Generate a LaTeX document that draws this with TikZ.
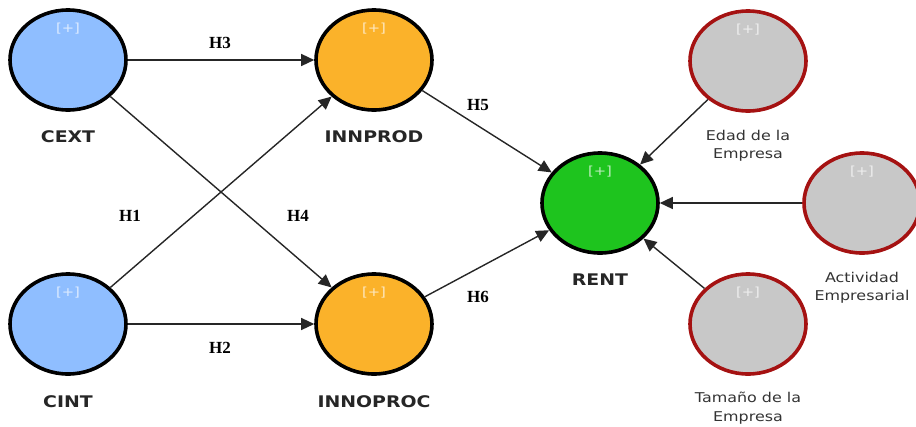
\documentclass[tikz,border=0pt]{standalone}
\usepackage{fontspec}
\setmainfont{Liberation Serif}
\newfontfamily\lblfont[FakeStretch=1.18]{DejaVu Sans}
\usetikzlibrary{shapes.geometric,arrows.meta}

\definecolor{cblue}{RGB}{143,190,255}
\definecolor{corange}{RGB}{251,178,42}
\definecolor{cgreen}{RGB}{30,196,30}
\definecolor{cgray}{RGB}{200,200,200}
\definecolor{cred}{RGB}{165,18,18}

\begin{document}
\begin{tikzpicture}[x=1pt,y=-1pt,
  lv/.style={ellipse, draw=black, line width=3.6pt, minimum width=116pt,
             minimum height=100pt, inner sep=0pt},
  ctrl/.style={lv, draw=cred, fill=cgray},
  plus/.style={text=white, opacity=0.7, font=\lblfont\fontsize{12.5}{13}\selectfont, inner sep=0pt},
  vname/.style={font=\lblfont\bfseries\fontsize{16}{18}\selectfont, text=black!85, inner sep=0pt},
  cname/.style={font=\lblfont\fontsize{13.5}{18.5}\selectfont, text=black!80, align=center, inner sep=0pt},
  hyp/.style={font=\bfseries\fontsize{17}{19}\selectfont, inner sep=0pt},
  conn/.style={draw=black!85, line width=1.4pt, -{Triangle[length=13pt,width=12pt]}}
]
\useasboundingbox (0,0) rectangle (916,426);

% latent variables
\node[lv, fill=cblue]   (cext)    at (68,60)   {};
\node[lv, fill=cblue]   (cint)    at (68,324)  {};
\node[lv, fill=corange] (innprod) at (374,60)  {};
\node[lv, fill=corange] (innproc) at (374,324) {};
\node[lv, fill=cgreen]  (rent)    at (600,203) {};
\node[ctrl] (edad) at (748,61)  {};
\node[ctrl] (act)  at (862,203) {};
\node[ctrl] (tam)  at (748,324) {};

% expand markers
\foreach \n in {cext,cint,innprod,innproc,rent,edad,act,tam}
  \node[plus] at ([yshift=31pt]\n.center) {[+]};

% names
\node[vname] (cextl)    at (68,137)  {CEXT};
\node[vname] (cintl)    at (68,402)  {CINT};
\node[vname] (innprodl) at (374,137) {INNPROD};
\node[vname] (innprocl) at (374,402) {INNOPROC};
\node[vname] (rentl)    at (600,280) {RENT};
\node[cname] (edadl) at (748,146) {Edad de la\\Empresa};
\node[cname] (actl)  at (862,288) {Actividad\\Empresarial};
\node[cname] (taml)  at (748,408) {Tamaño de la\\Empresa};

% paths
\draw[conn] (cext) -- (innprod);
\draw[conn] (cint) -- (innproc);
\draw[conn] (cext) -- (innproc);
\draw[conn] (cint) -- (innprod);
\draw[conn] (innprod) -- (rent);
\draw[conn] (innproc) -- (rent);
\draw[conn] (edad) -- (rent);
\draw[conn] (act) -- (rent);
\draw[conn] (tam) -- (rent);

% hypothesis labels
\node[hyp] (h3) at (220,43)  {H3};
\node[hyp] (h2) at (220,348) {H2};
\node[hyp] (h1) at (130,216) {H1};
\node[hyp] (h4) at (298,216) {H4};
\node[hyp] (h5) at (478,105) {H5};
\node[hyp] (h6) at (478,297) {H6};
\end{tikzpicture}
\end{document}
